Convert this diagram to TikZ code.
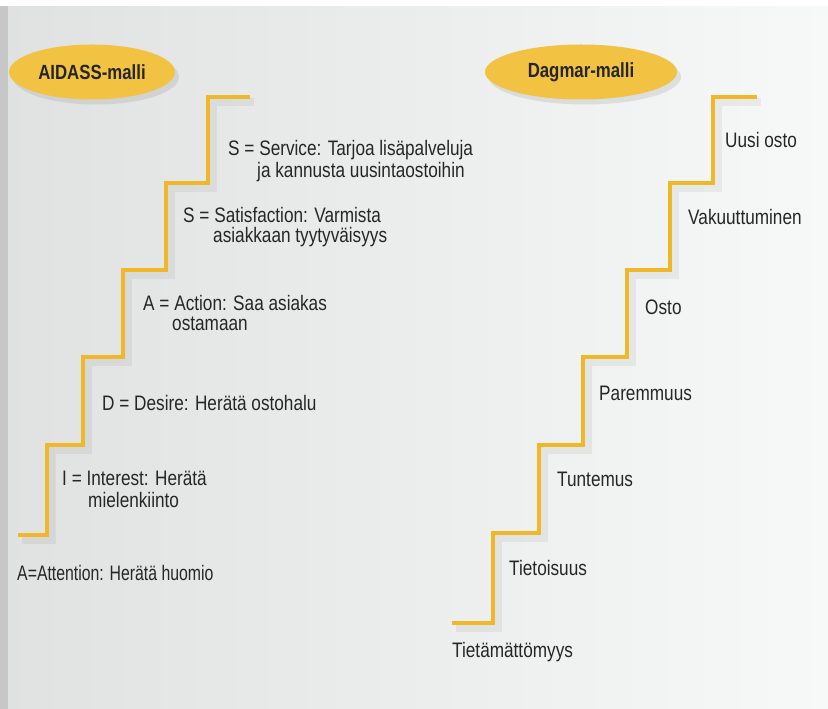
\documentclass[tikz,border=0pt]{standalone}
\usepackage{fontspec}
\setmainfont[FakeStretch=0.82]{Liberation Sans}
\usetikzlibrary{shapes.geometric,shadows}
\definecolor{stairgold}{RGB}{240,184,40}
\definecolor{ovalgold}{RGB}{242,194,66}
\definecolor{inkgrey}{RGB}{38,38,38}
\definecolor{pageleft}{RGB}{224,226,226}
\definecolor{pageright}{RGB}{247,249,249}
\tikzset{
	stair/.style={line width=1mm, color=stairgold, line join=miter},
	stairshade/.style={line width=2.4mm, color=black, opacity=0.05},
	oval/.style={ellipse, fill=ovalgold, text=inkgrey, inner sep=0pt,
		font=\fontsize{17.5}{21}\selectfont\bfseries,
		drop shadow={shadow xshift=1.2mm, shadow yshift=-1.5mm, opacity=0.18}},
	steptext/.style={anchor=west, inner sep=0pt, text=inkgrey,
		font=\fontsize{17.9}{21}\selectfont}
}

\begin{document}
\begin{tikzpicture}[x=0.3mm, y=-0.3mm]
			%%%%% PAGE %%%%%
			\useasboundingbox (0, 0) rectangle (828, 709);
			\shade[left color=pageleft, right color=pageright] (0, 0) rectangle (828, 709);
			\fill[black!22] (0, 0) rectangle (8, 709);
			\fill[white] (0, 0) rectangle (828, 6);
			
			%%%%% AIDASS %%%%%
			\node[oval, minimum width=49.8mm, minimum height=16.5mm] (aidass) at (92, 72) {AIDASS-malli};
			
			\draw[stairshade] (254, 102) -- (213, 102) -- (213, 188) -- (171, 188) -- (171, 275) -- (128, 275) -- (128, 362) -- (88, 362) -- (88, 450) -- (52, 450) -- (52, 540) -- (22, 540);
			\draw[stair] (250, 97) -- (208, 97) -- (208, 183) -- (166, 183) -- (166, 270) -- (123, 270) -- (123, 357) -- (83, 357) -- (83, 445) -- (47, 445) -- (47, 535) -- (18, 535);
			
			\node[steptext] (serv1) at (228, 150) {S = Service: Tarjoa lisäpalveluja};
			\node[steptext] (serv2) at (257, 172) {ja kannusta uusintaostoihin};
			\node[steptext] (sat1) at (183, 215) {S = Satisfaction: Varmista};
			\node[steptext] (sat2) at (213, 237) {asiakkaan tyytyväisyys};
			\node[steptext] (act1) at (143, 303) {A = Action: Saa asiakas};
			\node[steptext] (act2) at (172, 324) {ostamaan};
			\node[steptext] (des) at (102, 403) {D = Desire: Herätä ostohalu};
			\node[steptext] (int1) at (62, 478) {I = Interest: Herätä};
			\node[steptext] (int2) at (88, 500) {mielenkiinto};
			\node[steptext, xscale=0.92] (att) at (17, 573) {A=Attention: Herätä huomio};
			
			%%%%% DAGMAR %%%%%
			\node[oval, minimum width=57.6mm, minimum height=16.5mm] (dagmar) at (581, 72) {Dagmar-malli};
			
			\draw[stairshade] (761, 102) -- (718, 102) -- (718, 188) -- (675, 188) -- (675, 275) -- (632, 275) -- (632, 362) -- (588, 362) -- (588, 450) -- (544, 450) -- (544, 538) -- (498, 538) -- (498, 628) -- (456, 628);
			\draw[stair] (757, 97) -- (713, 97) -- (713, 183) -- (670, 183) -- (670, 270) -- (627, 270) -- (627, 357) -- (583, 357) -- (583, 445) -- (539, 445) -- (539, 533) -- (493, 533) -- (493, 623) -- (452, 623);
			
			\node[steptext] (uusi) at (725, 140) {Uusi osto};
			\node[steptext] (vakuut) at (688, 217) {Vakuuttuminen};
			\node[steptext] (osto) at (645, 307) {Osto};
			\node[steptext] (parem) at (599, 393) {Paremmuus};
			\node[steptext] (tuntem) at (557, 479) {Tuntemus};
			\node[steptext] (tietoi) at (509, 568) {Tietoisuus};
			\node[steptext] (tietam) at (452, 652) {Tietämättömyys};
			
		\end{tikzpicture}
\end{document}
